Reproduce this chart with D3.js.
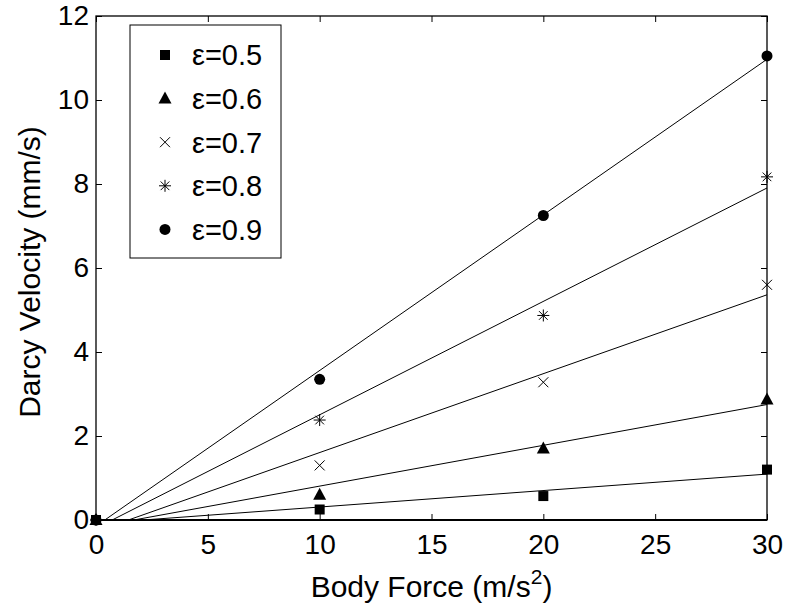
<!DOCTYPE html>
<html>
<head>
<meta charset="utf-8">
<script src="https://d3js.org/d3.v7.min.js"></script>
<style>
  body { margin: 0; background: #fff; }
  text { font-family: "Liberation Sans", Arial, sans-serif; fill: #000; }
</style>
</head>
<body>
<div id="chart"></div>
<script>
// body force values (m/s^2)
const forces = [0, 10, 20, 30];
// porosity labels
const porosities = ["0.5", "0.6", "0.7", "0.8", "0.9"];
// Darcy velocity (mm/s) for each porosity
const v05 = [0, 0.25, 0.57, 1.2];
const v06 = [0, 0.6, 1.7, 2.87];
const v07 = [0, 1.3, 3.28, 5.6];
const v08 = [0, 2.38, 4.87, 8.17];
const v09 = [0, 3.35, 7.25, 11.05];
const symbols = ["square", "triangle", "cross", "star", "circle"];
const xTicks = [0, 5, 10, 15, 20, 25, 30];
const yTicks = [0, 2, 4, 6, 8, 10, 12];

const seriesData = [v05, v06, v07, v08, v09];

const margin = { top: 16, right: 21, bottom: 88, left: 96 },
    width = 788 - margin.left - margin.right,
    height = 608 - margin.top - margin.bottom;

const svg = d3.select("#chart").append("svg")
    .attr("width", 788)
    .attr("height", 608)
    .append("g")
    .attr("transform", `translate(${margin.left},${margin.top})`);

const x = d3.scaleLinear().domain([0, 30]).range([0, width]);
const y = d3.scaleLinear().domain([0, 12]).range([height, 0]);

svg.append("clipPath").attr("id", "plot-clip")
    .append("rect").attr("width", width).attr("height", height);

// least-squares fit of each series
function fit(vals) {
    const mx = d3.mean(forces), my = d3.mean(vals);
    let sxy = 0, sxx = 0;
    forces.forEach((f, i) => { sxy += (f - mx) * (vals[i] - my); sxx += (f - mx) * (f - mx); });
    const slope = sxy / sxx;
    return { slope, icpt: my - slope * mx };
}

const lines = svg.append("g").attr("clip-path", "url(#plot-clip)");
seriesData.forEach(vals => {
    const f = fit(vals);
    lines.append("line")
        .attr("x1", x(0)).attr("y1", y(f.icpt))
        .attr("x2", x(30)).attr("y2", y(f.icpt + f.slope * 30))
        .attr("stroke", "#000").attr("stroke-width", 1);
});

// axes box with inward ticks
const tickLen = 6;
const fontSize = 28;
svg.append("g").attr("transform", `translate(0,${height})`)
    .call(d3.axisBottom(x).tickValues(xTicks).tickSizeInner(-tickLen).tickSizeOuter(0).tickPadding(14));
svg.append("g")
    .call(d3.axisLeft(y).tickValues(yTicks).tickSizeInner(-tickLen).tickSizeOuter(0).tickPadding(7));
svg.append("g")
    .call(d3.axisTop(x).tickValues(xTicks).tickSizeInner(-tickLen).tickSizeOuter(0).tickFormat(""));
svg.append("g").attr("transform", `translate(${width},0)`)
    .call(d3.axisRight(y).tickValues(yTicks).tickSizeInner(-tickLen).tickSizeOuter(0).tickFormat(""));

svg.selectAll(".domain").remove();
svg.selectAll(".tick line").attr("stroke", "#000");
svg.selectAll(".tick text").style("font-size", fontSize + "px").attr("fill", "#000");

svg.append("rect")
    .attr("width", width).attr("height", height)
    .attr("fill", "none").attr("stroke", "#000").attr("stroke-width", 1.3);
svg.append("line")
    .attr("x1", 0).attr("x2", width).attr("y1", height).attr("y2", height)
    .attr("stroke", "#000").attr("stroke-width", 2);

// markers
function drawMarker(g, type, cx, cy) {
    if (type === "square") {
        g.append("rect").attr("x", cx - 5).attr("y", cy - 5)
            .attr("width", 10).attr("height", 10).attr("fill", "#000");
    } else if (type === "triangle") {
        g.append("path")
            .attr("d", `M${cx},${cy - 7}L${cx + 6.5},${cy + 5}L${cx - 6.5},${cy + 5}Z`)
            .attr("fill", "#000");
    } else if (type === "cross") {
        const r = 5;
        g.append("path")
            .attr("d", `M${cx - r},${cy - r}L${cx + r},${cy + r}M${cx - r},${cy + r}L${cx + r},${cy - r}`)
            .attr("stroke", "#000").attr("stroke-width", 1).attr("fill", "none");
    } else if (type === "star") {
        const r = 6, d = r * 0.72;
        g.append("path")
            .attr("d", `M${cx - r},${cy}L${cx + r},${cy}M${cx},${cy - r}L${cx},${cy + r}` +
                `M${cx - d},${cy - d}L${cx + d},${cy + d}M${cx - d},${cy + d}L${cx + d},${cy - d}`)
            .attr("stroke", "#000").attr("stroke-width", 1).attr("fill", "none");
    } else {
        g.append("circle").attr("cx", cx).attr("cy", cy).attr("r", 5.5).attr("fill", "#000");
    }
}

const marks = svg.append("g");
seriesData.forEach((vals, i) => {
    forces.forEach((f, j) => drawMarker(marks, symbols[i], x(f), y(vals[j])));
});

// legend
const legend = svg.append("g").attr("transform", `translate(${130 - margin.left},${25 - margin.top})`);
legend.append("rect")
    .attr("width", 151).attr("height", 233)
    .attr("fill", "#fff").attr("stroke", "#000").attr("stroke-width", 1);
porosities.forEach((p, i) => {
    const ly = 30 + i * 43.6;
    drawMarker(legend, symbols[i], 35, ly);
    legend.append("text")
        .attr("x", 62).attr("y", ly).attr("dy", "0.36em")
        .style("font-size", "29px")
        .text("ε=" + p);
});

// axis titles
const xTitle = svg.append("text")
    .attr("x", width / 2).attr("y", height + 77)
    .attr("text-anchor", "middle")
    .style("font-size", "30px");
xTitle.append("tspan").text("Body Force (m/s");
xTitle.append("tspan").attr("dy", -13).style("font-size", "21px").text("2");
xTitle.append("tspan").attr("dy", 13).text(")");

svg.append("text")
    .attr("transform", `translate(${40 - margin.left},${height / 2 + 4}) rotate(-90)`)
    .attr("text-anchor", "middle")
    .style("font-size", "30px")
    .text("Darcy Velocity (mm/s)");
</script>
</body>
</html>
